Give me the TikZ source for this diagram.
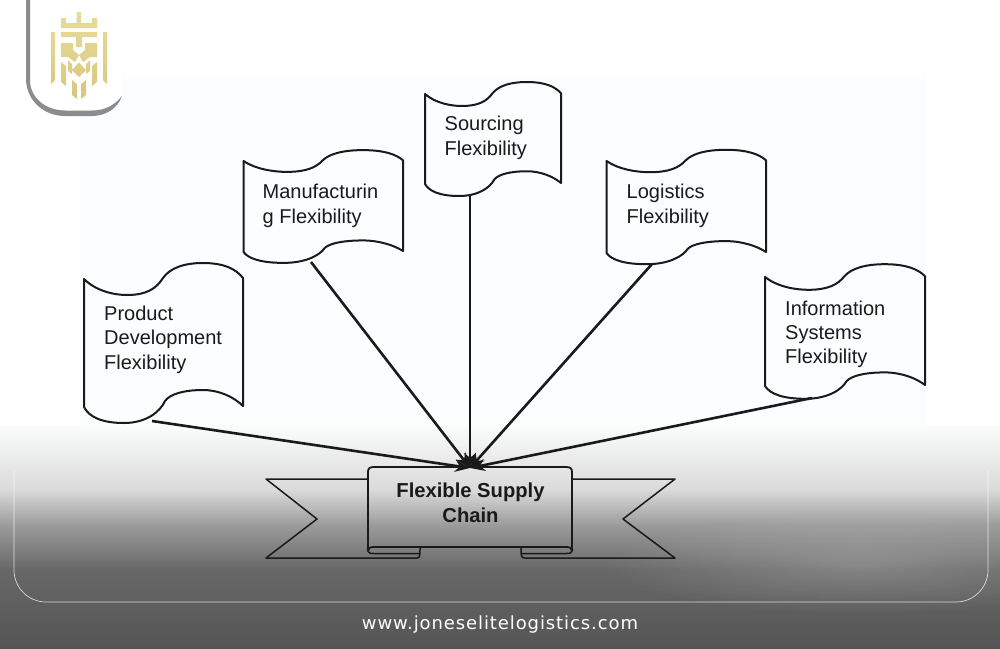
\documentclass[tikz,border=0pt]{standalone}
\usepackage{fontspec}
\setmainfont{Liberation Sans}
\newfontfamily\urlfont[LetterSpace=5]{DejaVu Sans}
\usetikzlibrary{arrows.meta,fadings}
\definecolor{ink}{HTML}{1A1A1A}
\definecolor{paper}{HTML}{FBFDFE}
\definecolor{gA}{HTML}{FBFCFC}
\definecolor{gB}{HTML}{DADADA}
\definecolor{gC}{HTML}{9C9C9C}
\definecolor{gD}{HTML}{676767}
\definecolor{gE}{HTML}{555555}
\definecolor{goldA}{HTML}{E8DC9B}
\definecolor{goldB}{HTML}{C4A245}
\definecolor{goldC}{HTML}{D8C67E}
\tikzfading[name=glowfade,inner color=transparent!80,outer color=transparent!100]
\tikzset{
  x=1pt,y=-1pt,
  flagline/.style={draw=ink,line width=2pt,line join=round},
  flagtext/.style={anchor=west,align=left,inner sep=0pt,text=ink,font=\fontsize{20}{24.7}\selectfont},
  bannerline/.style={draw=ink,line width=1.5pt,line join=round},
  conn/.style={draw=ink,line width=2.6pt,-{Stealth[length=15pt,width=12pt]}},
}
\newcommand{\flagshape}[9]{%
  % #1 name, #2 x, #3 y, #4 w, #5 h, #6 wave scale, #7 text x, #8 text y, #9 text
  \begin{scope}[shift={(#2,#3)},xscale=#4/159]
    \draw[flagline] (0,0) .. controls (12,12*#6) and (30,16*#6) .. (43,16*#6)
      .. controls (62,16*#6) and (72,10*#6) .. (79,-1*#6)
      .. controls (86,-11*#6) and (100,-16*#6) .. (119,-16*#6)
      .. controls (140,-16*#6) and (152,-10*#6) .. (159,-1*#6)
      -- (159,#5-1)
      .. controls (150,#5-10*#6) and (135,#5-17*#6) .. (119,#5-17*#6)
      .. controls (100,#5-17*#6) and (86,#5-13*#6) .. (81,#5-6*#6)
      .. controls (76,#5+5*#6) and (62,#5+16*#6) .. (40,#5+16*#6)
      .. controls (18,#5+16*#6) and (5,#5+10*#6) .. (0,#5) -- cycle;
  \end{scope}
  \node[flagtext] (#1) at (#7,#8) {#9};
}
\begin{document}
\begin{tikzpicture}
\useasboundingbox (0,0) rectangle (1000,648);
% background
\fill[white] (0,0) rectangle (1000,648);
\fill[paper] (80,75) rectangle (926,426);
\shade[top color=gA,bottom color=gB] (0,425) rectangle (1000,490);
\shade[top color=gB,bottom color=gC] (0,489.5) rectangle (1000,525);
\shade[top color=gC,bottom color=gD] (0,524.5) rectangle (1000,570);
\shade[top color=gD,bottom color=gE] (0,569.5) rectangle (1000,648);
\fill[white,path fading=glowfade] (860,565) ellipse [x radius=260,y radius=50];
% frame
\draw[white,opacity=.75,line width=.7pt] (14,470) -- (14,570) arc[start angle=180,end angle=90,radius=32] -- (956,602) arc[start angle=90,end angle=0,radius=32] -- (988,470);
% logo panel
\fill[white] (28,0) -- (28,80) .. controls (30,100) and (45,113) .. (65,113) -- (92,113) .. controls (106,113) and (118,106) .. (122,96) -- (122,0) -- cycle;
\fill[white] (122,0) rectangle (150,75);
\fill[black!45] (26,0) -- (26,80) .. controls (27,102) and (45,116) .. (65,116) -- (92,116) .. controls (106,116) and (118,108) .. (122,96)
  .. controls (114,106) and (104,110.5) .. (92,110.5) -- (65,110.5) .. controls (46,110.5) and (30,98) .. (30,80) -- (30,0) -- cycle;
% logo mark
\shade[top color=goldA,middle color=goldB,bottom color=goldC]
  (76.5,12) -- (81,12) -- (81,23) -- (92,23) -- (92,18) -- (97,18) -- (97,28) -- (61,28) -- (61,18) -- (66,18) -- (66,23) -- (76.5,23) -- cycle
  (61,32) -- (97,32) -- (97,37) -- (82,37) -- (82,47) -- (76,47) -- (76,37) -- (61,37) -- cycle
  (51,32) -- (55,32) -- (55,80) -- (51,84) -- cycle
  (103,32) -- (107,32) -- (107,84) -- (103,80) -- cycle
  (61,43) -- (73,43) -- (73,50) -- (79,55) -- (75,62) -- (68,57) -- (61,57) -- cycle
  (97,43) -- (85,43) -- (85,50) -- (79,55) -- (83,62) -- (90,57) -- (97,57) -- cycle
  (79,62.5) -- (86,70) -- (79,77) -- (72,70) -- cycle
  (61,62) -- (66,66) -- (66,86) -- (61,82) -- cycle
  (97,62) -- (92,66) -- (92,86) -- (97,82) -- cycle
  (68,60) -- (72,64) -- (72,74) -- (68,71) -- cycle
  (90,60) -- (86,64) -- (86,74) -- (90,71) -- cycle
  (72,80) -- (77,84) -- (77,99) -- (72,95) -- cycle
  (86,80) -- (81,84) -- (81,99) -- (86,95) -- cycle;
% flags
\flagshape{prod}{84}{279}{159}{128}{1}{104}{339.8}{Product\\Development\\Flexibility}
\flagshape{manu}{243.5}{161}{159.5}{91}{.68}{262.5}{205.5}{Manufacturin\\g Flexibility}
\flagshape{sour}{425}{94}{136}{90}{.75}{444.5}{137.5}{Sourcing\\Flexibility}
\flagshape{logi}{606.5}{161}{159.5}{92}{.7}{626.5}{205.5}{Logistics\\Flexibility}
\flagshape{info}{765}{277}{160}{109}{.8}{785}{334.5}{Information\\[-1pt]Systems\\[-1pt]Flexibility}
% banner
\draw[bannerline] (368,479) -- (266,479) -- (317,519) -- (266,558) -- (417,558) .. controls (420,558) and (420,556) .. (420,547);
\draw[bannerline] (572,479) -- (675,479) -- (623,519) -- (675,558) -- (525,558) .. controls (521,558) and (521,556) .. (521,547);
\draw[bannerline,line width=1.8pt] (368,472) .. controls (368,468) and (370,467) .. (374,467) -- (566,467) .. controls (570,467) and (572,468) .. (572,472)
  -- (572,551) .. controls (572,548) and (570,547) .. (566,547) -- (374,547) .. controls (370,547) and (368,548) .. (368,551) -- cycle;
\draw[bannerline] (368,551) .. controls (368,553) and (370,553.5) .. (374,553.5) -- (420,553.5);
\draw[bannerline] (572,551) .. controls (572,553) and (570,553.5) .. (566,553.5) -- (521,553.5);
\node[flagtext,anchor=center,align=center,font=\fontsize{20.2}{25}\bfseries\selectfont] (banner) at (470.5,503) {Flexible Supply\\Chain};
\coordinate (hub) at (470,468);
% connector ends
\coordinate (pe) at (152,421);
\coordinate (me) at (311,262);
\coordinate (se) at (470,194);
\coordinate (le) at (652,264);
\coordinate (ie) at (812,398);
\draw[conn] (pe) -- (hub);
\draw[conn] (me) -- (hub);
\draw[conn] (se) -- (hub);
\draw[conn] (le) -- (hub);
\draw[conn] (ie) -- (hub);
% url
\node[inner sep=0pt,text=white,font=\urlfont\fontsize{18}{20}\selectfont] (url) at (500,625) {www.joneselitelogistics.com};
\end{tikzpicture}
\end{document}
